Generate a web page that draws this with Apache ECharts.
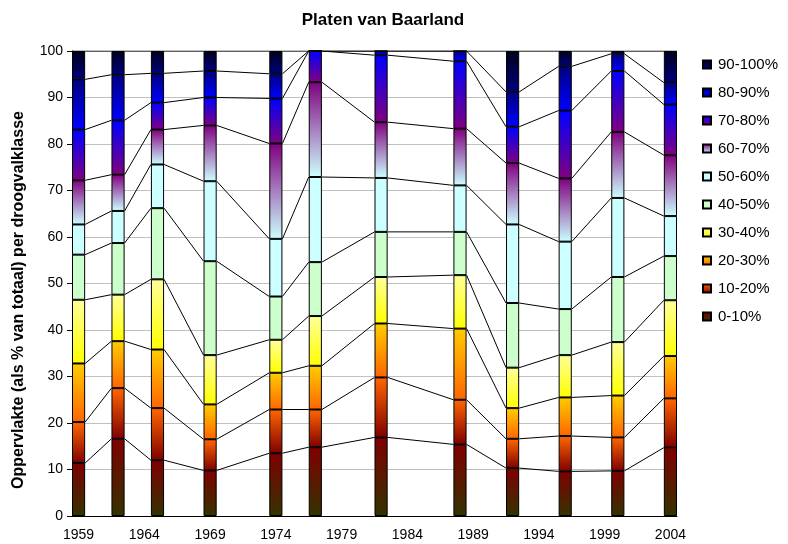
<!DOCTYPE html>
<html>
<head>
<meta charset="utf-8">
<title>Platen van Baarland</title>
<script src="https://cdn.jsdelivr.net/npm/echarts@6/dist/echarts.min.js"></script>
<style>
html, body { margin: 0; padding: 0; background: #fff; }
#container1 { width: 788px; height: 544px; }
</style>
</head>
<body>
<div id="container1"></div>
<script>
// opnamejaren
var jaren = [1959, 1962, 1965, 1969, 1974, 1977, 1982, 1988, 1992, 1996, 2000, 2004];
// aandeel oppervlakte per droogvalklasse (% van totaal), per opnamejaar
var klasse_0_10   = [11.4, 16.6, 12.0, 9.8, 13.5, 14.8, 16.9, 15.4, 10.3, 9.6, 9.7, 14.7];
var klasse_10_20  = [8.8, 10.9, 11.2, 6.7, 9.4, 8.1, 12.9, 9.6, 6.3, 7.6, 7.2, 10.6];
var klasse_20_30  = [12.6, 10.1, 12.6, 7.5, 7.9, 9.4, 11.6, 15.3, 6.6, 8.3, 9.0, 9.1];
var klasse_30_40  = [13.7, 10.0, 15.1, 10.6, 7.1, 10.7, 10.0, 11.5, 8.7, 9.1, 11.5, 12.0];
var klasse_40_50  = [9.7, 11.1, 15.3, 20.2, 9.3, 11.6, 9.7, 9.3, 13.9, 9.9, 14.0, 9.5];
var klasse_50_60  = [6.5, 6.9, 9.4, 17.2, 12.4, 18.3, 11.6, 10.0, 16.9, 14.5, 17.0, 8.6];
var klasse_60_70  = [9.5, 7.8, 7.5, 12.0, 20.5, 20.4, 12.0, 12.2, 13.2, 13.6, 14.2, 13.1];
var klasse_70_80  = [10.9, 11.7, 5.8, 6.0, 9.7, 6.7, 14.4, 14.5, 7.8, 14.6, 13.1, 10.9];
var klasse_80_90  = [10.8, 9.8, 6.3, 5.7, 5.3, 0, 0.9, 2.2, 7.5, 9.5, 3.7, 4.7];
var klasse_90_100 = [6.1, 5.1, 4.8, 4.3, 4.9, 0, 0, 0, 8.8, 3.3, 0.6, 6.8];
var klasseNamen = ['0-10%', '10-20%', '20-30%', '30-40%', '40-50%', '50-60%', '60-70%', '70-80%', '80-90%', '90-100%'];
// as-categorieen: ieder jaar van 1959 t/m 2004
var eersteJaar = 1959, laatsteJaar = 2004;

var klassen = [klasse_0_10, klasse_10_20, klasse_20_30, klasse_30_40, klasse_40_50,
               klasse_50_60, klasse_60_70, klasse_70_80, klasse_80_90, klasse_90_100];

// kleurverloop per klasse: [onder, boven]
var kleuren = [
    ['#333300', '#800000'],
    ['#800000', '#FF6600'],
    ['#FF6600', '#FFCC00'],
    ['#FFFF00', '#FFFF99'],
    ['#CCFFCC', '#CCFFCC'],
    ['#CCFFFF', '#CCFFFF'],
    ['#CCFFFF', '#800080'],
    ['#800080', '#0000FF'],
    ['#0000FF', '#000080'],
    ['#000080', '#00001a']
];

var categorieen = [];
for (var j = eersteJaar; j <= laatsteJaar; j++) categorieen.push(String(j));

var fontNaam = 'Liberation Sans, Arial, sans-serif';
var series = [];
var cum = jaren.map(function () { return 0; });

for (var k = 0; k < klassen.length; k++) {
    // staaf-data op de categorie-as (leeg voor jaren zonder opname)
    var staaf = categorieen.map(function () { return null; });
    for (var i = 0; i < jaren.length; i++) {
        staaf[jaren[i] - eersteJaar] = klassen[k][i];
        cum[i] += klassen[k][i];
    }
    series.push({
        name: klasseNamen[k],
        type: 'bar',
        stack: 'totaal',
        barCategoryGap: '0%',
        z: 3,
        itemStyle: {
            color: new echarts.graphic.LinearGradient(0, 1, 0, 0, [
                { offset: 0, color: kleuren[k][0] },
                { offset: 1, color: kleuren[k][1] }
            ]),
            borderColor: '#000',
            borderWidth: 1
        },
        data: staaf
    });
    // verbindingslijnen tussen de staven (rand tot rand)
    var lijn = [];
    for (var i = 0; i < jaren.length; i++) {
        lijn.push([jaren[i] - 0.5, cum[i]]);
        lijn.push([jaren[i] + 0.5, cum[i]]);
    }
    series.push({
        name: 'lijn' + k,
        type: 'line',
        xAxisIndex: 1,
        z: 1,
        symbol: 'none',
        silent: true,
        lineStyle: { color: '#000', width: 1 },
        data: lijn
    });
}

var chartDom = document.getElementById('container1');
var myChart = echarts.init(chartDom);
var option = {
    animation: false,
    backgroundColor: '#fff',
    title: {
        text: 'Platen van Baarland',
        left: 378,
        textAlign: 'center',
        top: 7,
        textStyle: { fontFamily: fontNaam, fontSize: 17, fontWeight: 'bold', color: '#000' }
    },
    legend: {
        orient: 'vertical',
        left: 702,
        top: 57,
        padding: 0,
        itemWidth: 8,
        itemHeight: 8,
        itemGap: 13,
        icon: 'rect',
        data: klasseNamen.slice().reverse(),
        textStyle: { fontFamily: fontNaam, fontSize: 15, color: '#000', padding: [0, 0, 0, 2] }
    },
    grid: { left: 72, top: 51, width: 605, height: 465 },
    xAxis: [
        {
            type: 'category',
            data: categorieen,
            boundaryGap: true,
            axisLine: { lineStyle: { color: '#000', width: 1 } },
            axisTick: { interval: 0, length: 4, lineStyle: { color: '#000' } },
            axisLabel: { interval: 4, margin: 12, color: '#000', fontFamily: fontNaam, fontSize: 14 },
            splitLine: { show: false }
        },
        {
            type: 'value',
            min: eersteJaar - 0.5,
            max: laatsteJaar + 0.5,
            show: false
        }
    ],
    yAxis: {
        type: 'value',
        min: 0,
        max: 100,
        interval: 10,
        axisLine: { show: true, lineStyle: { color: '#000', width: 1 } },
        axisTick: { show: true, length: 5, lineStyle: { color: '#000' } },
        axisLabel: { margin: 9, color: '#000', fontFamily: fontNaam, fontSize: 14 },
        splitLine: { lineStyle: { color: '#c0c0c0', width: 1 } }
    },
    graphic: [{
        type: 'text',
        x: 19,
        y: 300,
        rotation: Math.PI / 2,
        style: {
            text: 'Oppervlakte (als % van totaal) per droogvalklasse',
            textAlign: 'center',
            textVerticalAlign: 'middle',
            fontFamily: fontNaam,
            fontSize: 16,
            fontWeight: 'bold',
            fill: '#000'
        }
    }],
    series: series
};
myChart.setOption(option);
</script>
</body>
</html>
